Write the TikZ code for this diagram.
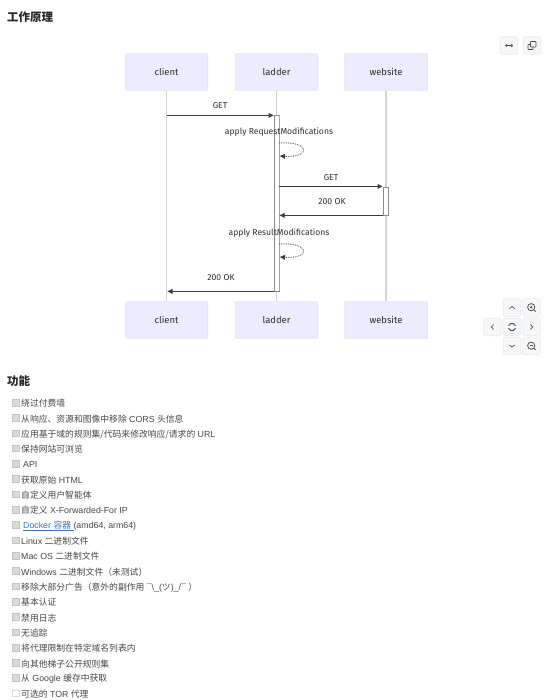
\documentclass[tikz,border=0pt]{standalone}
\usepackage{fontspec}
\setmainfont{Liberation Sans}
\newfontfamily\cjk{Noto Sans CJK SC}
\newfontfamily\mmd{Fira Sans}
\usetikzlibrary{arrows.meta,calc}
\definecolor{actfill}{HTML}{ECECFF}
\definecolor{actline}{HTML}{E2E2F4}
\definecolor{lifeln}{HTML}{D0D0D6}
\definecolor{inktxt}{HTML}{2E2E2E}
\definecolor{msgln}{HTML}{3C3C3C}
\definecolor{btnfill}{HTML}{F6F7F8}
\definecolor{btnline}{HTML}{E9EBEE}
\definecolor{boxgrey}{HTML}{DADADA}
\definecolor{linkblue}{HTML}{3E74B8}
\newcommand{\zh}[1]{{\cjk #1}}
\tikzset{
 actorbox/.style={draw=actline,fill=actfill,line width=.7pt,rounded corners=1pt,minimum width=82.5pt,minimum height=36.5pt,inner sep=0,font=\mmd\fontsize{9.4}{11}\selectfont,text=inktxt},
 lifeline/.style={draw=lifeln,line width=1.1pt},
 activebar/.style={draw=black!45,fill=white,line width=.8pt},
 barside/.style={draw=black!35,line width=1.5pt},
 message/.style={draw=msgln,line width=1pt,-{Latex[length=5.5pt,width=5.5pt]}},
 selfmsg/.style={draw=msgln,line width=.8pt,densely dotted,-{Latex[length=5.5pt,width=5.5pt]}},
 msglabel/.style={font=\mmd\fontsize{8.6}{11}\selectfont,text=inktxt,inner sep=0,yshift=-.7pt},
 heading/.style={font=\cjk\bfseries\fontsize{11.5}{13}\selectfont,text=black!85,anchor=west,inner sep=0},
 item/.style={font=\fontsize{8.8}{11}\selectfont,text=black!72,anchor=west,inner sep=0,yshift=-.6pt},
 tick/.style={fill=boxgrey,draw=boxgrey!90!black,line width=.3pt,minimum size=6.5pt,inner sep=0},
 untick/.style={fill=white,draw=boxgrey,line width=.4pt,minimum size=6.5pt,inner sep=0},
 btn/.style={fill=btnfill,draw=btnline,line width=.6pt,rounded corners=2pt,minimum size=17.5pt,inner sep=0},
 icon/.style={draw=black!70,line width=.7pt},
}
\begin{document}
\begin{tikzpicture}[x=1pt,y=-1pt]
\useasboundingbox (0,0) rectangle (551,700);
\fill[white] (0,0) rectangle (551,700);
\node[heading] (h1) at (7,17) {工作原理};
\node[heading] (h2) at (7,381) {功能};
% actors
\node[actorbox] (c1) at (166.5,72) {client};
\node[actorbox] (l1) at (276.5,72) {ladder};
\node[actorbox] (w1) at (386,72) {website};
\node[actorbox] (c2) at (166.5,320) {client};
\node[actorbox] (l2) at (276.5,320) {ladder};
\node[actorbox] (w2) at (386,320) {website};
\draw[lifeline] (c1.south) -- (c2.north);
\draw[lifeline] (l1.south) -- (l2.north);
\draw[lifeline] (w1.south) -- (w2.north);
% activations
\node[activebar,minimum width=5pt,minimum height=176pt,inner sep=0] (ba) at (276.5,203) {};
\node[activebar,minimum width=5pt,minimum height=28pt,inner sep=0] (bb) at (385.5,201) {};
\draw[barside] (ba.north east) -- (ba.south east);
% message anchors
\coordinate (m1a) at (167,115.4); \coordinate (m1b) at (274,115.4);
\coordinate (s1a) at (279,143); \coordinate (s1b) at (279.5,156);
\coordinate (m2a) at (279,186.4); \coordinate (m2b) at (383,186.4);
\coordinate (m3a) at (383,215.4); \coordinate (m3b) at (279,215.4);
\coordinate (s2a) at (279,244); \coordinate (s2b) at (279.5,257);
\coordinate (m4a) at (274,291.4); \coordinate (m4b) at (167,291.4);
\draw[message] (m1a) -- (m1b);
\draw[message] (m2a) -- (m2b);
\draw[message] (m3a) -- (m3b);
\draw[message] (m4a) -- (m4b);
\draw[selfmsg] (s1a) .. controls (311,141) and (311,158) .. (s1b);
\draw[selfmsg] (s2a) .. controls (311,242) and (311,259) .. (s2b);
\node[msglabel] (t1) at (220,105) {GET};
\node[msglabel] (t2) at (279,131) {apply RequestModifications};
\node[msglabel] (t3) at (331,177) {GET};
\node[msglabel] (t4) at (332,201) {200 OK};
\node[msglabel] (t5) at (279,232) {apply ResultModifications};
\node[msglabel] (t6) at (221,277) {200 OK};
% top buttons
\node[btn] (bw) at (509,45.5) {};
\node[btn] (bc) at (532,45.5) {};
\draw[icon,line width=.5pt,{Straight Barb[length=1.5pt,width=3pt]}-{Straight Barb[length=1.5pt,width=3pt]}] ($(bw)+(-4,0)$) -- ($(bw)+(4,0)$);
\draw[icon,rounded corners=.7pt] ($(bc)+(-1.5,-4)$) rectangle ($(bc)+(4,1.5)$);
\draw[icon,rounded corners=.7pt] ($(bc)+(-1.5,-1)$) -- ($(bc)+(-4,-1)$) -- ($(bc)+(-4,4)$) -- ($(bc)+(1,4)$) -- ($(bc)+(1,1.5)$);
% pan/zoom buttons
\node[btn] (bu) at (512,307.5) {};
\node[btn] (bi) at (531.5,307.5) {};
\node[btn] (bl) at (492.5,327) {};
\node[btn] (br) at (512,327) {};
\node[btn] (bn) at (531.5,327) {};
\node[btn] (bd) at (512,346) {};
\node[btn] (bo) at (531.5,346) {};
\draw[icon] ($(bu)+(-2.5,1.2)$) -- ($(bu)+(0,-1.2)$) -- ($(bu)+(2.5,1.2)$);
\draw[icon] ($(bd)+(-2.5,-1.2)$) -- ($(bd)+(0,1.2)$) -- ($(bd)+(2.5,-1.2)$);
\draw[icon] ($(bl)+(1.2,-2.5)$) -- ($(bl)+(-1.2,0)$) -- ($(bl)+(1.2,2.5)$);
\draw[icon] ($(bn)+(-1.2,-2.5)$) -- ($(bn)+(1.2,0)$) -- ($(bn)+(-1.2,2.5)$);
\draw[icon,line width=.9pt] ($(br)+(3.5,-1.2)$) arc[start angle=-20,end angle=-160,radius=3.7];
\draw[icon,line width=.9pt] ($(br)+(-3.5,1.2)$) arc[start angle=160,end angle=20,radius=3.7];
\draw[icon,line width=.8pt] ($(bi)+(-.3,-.3)$) circle[radius=3.6];
\fill[black!70] ($(bi)+(-.3,-.3)$) circle[radius=1.3];
\draw[icon,line width=.8pt] ($(bi)+(2.3,2.3)$) -- ($(bi)+(4,4)$);
\draw[icon,line width=.8pt] ($(bo)+(-.3,-.3)$) circle[radius=3.6];
\draw[icon,line width=.7pt] ($(bo)+(-2,-.3)$) -- ($(bo)+(1.4,-.3)$);
\draw[icon,line width=.8pt] ($(bo)+(2.3,2.3)$) -- ($(bo)+(4,4)$);
% checklist
\foreach \n/\yy in {a/403,b/418.3,c/433.6,d/448.9,e/464,f/479.3,g/494.6,h/510,i/525.3,j/540.5,k/556,l/571.3,m/586.6,n/602,o/617.3,p/632.6,q/648,r/663.2,s/678.4}{
  \node[tick] (cb\n) at (15.5,\yy-.6) {};
}
\node[untick] (cbt) at (15.5,693) {};
\node[item] (ia) at (21,403) {\zh{绕过付费墙}};
\node[item] (ib) at (21,418.3) {\zh{从响应、资源和图像中移除} CORS \zh{头信息}};
\node[item] (ic) at (21,433.6) {\zh{应用基于域的规则集/代码来修改响应/请求的} URL};
\node[item] (id) at (21,448.9) {\zh{保持网站可浏览}};
\node[item] (ie) at (23,464) {API};
\node[item] (if) at (21,479.3) {\zh{获取原始} HTML};
\node[item] (ig) at (21,494.6) {\zh{自定义用户智能体}};
\node[item] (ih) at (21,510) {\zh{自定义} X-Forwarded-For IP};
\node[item] (ii) at (23,525.3) {\textcolor{linkblue}{\underline{Docker \zh{容器}\ }}(amd64, arm64)};
\node[item] (ij) at (21,540.5) {Linux \zh{二进制文件}};
\node[item] (ik) at (21,556) {Mac OS \zh{二进制文件}};
\node[item] (il) at (21,571.3) {Windows \zh{二进制文件（未测试）}};
\node[item] (im) at (21,586.6) {\zh{移除大部分广告（意外的副作用} ¯\textbackslash\_(\zh{ツ})\_/¯ \zh{）}};
\node[item] (in) at (21,602) {\zh{基本认证}};
\node[item] (io) at (21,617.3) {\zh{禁用日志}};
\node[item] (ip) at (21,632.6) {\zh{无追踪}};
\node[item] (iq) at (21,648) {\zh{将代理限制在特定域名列表内}};
\node[item] (ir) at (21,663.2) {\zh{向其他梯子公开规则集}};
\node[item] (is) at (21,678.4) {\zh{从} Google \zh{缓存中获取}};
\node[item] (it) at (21,693.6) {\zh{可选的} TOR \zh{代理}};
\end{tikzpicture}
\end{document}
